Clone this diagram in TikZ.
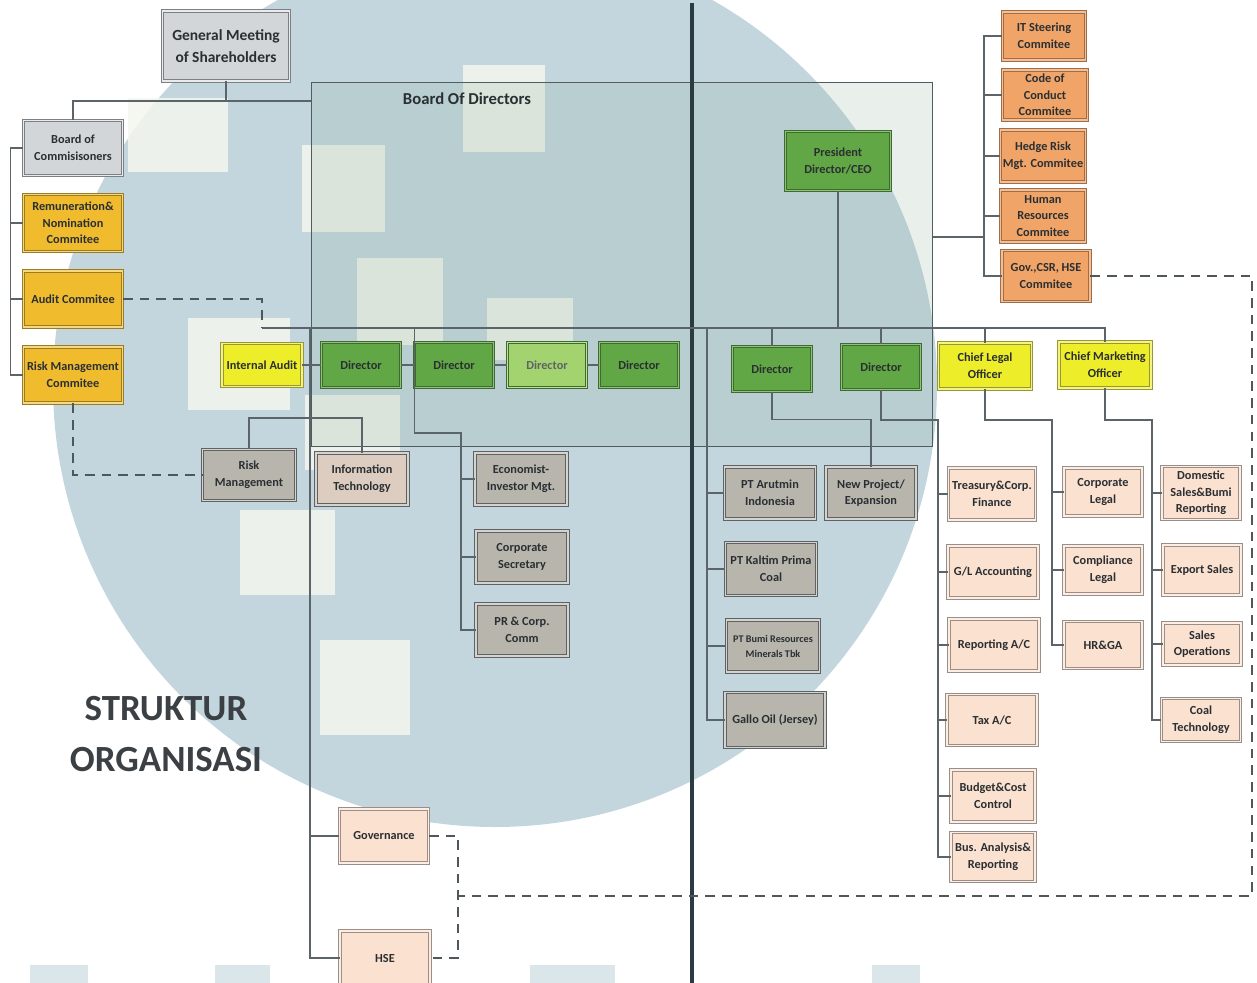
\documentclass[tikz,border=0pt]{standalone}
\usepackage{fontspec}
\setmainfont{Carlito}
\usetikzlibrary{shadows}

\definecolor{circ}{HTML}{C3D5DD}
\definecolor{sq}{HTML}{F5F6EE}
\definecolor{bodfill}{HTML}{8FB39C}
\definecolor{bodline}{HTML}{4F5D5F}
\definecolor{linec}{HTML}{5B6468}
\definecolor{dashc}{HTML}{4E575C}
\definecolor{spine}{HTML}{2C3A42}
\definecolor{txt}{HTML}{2A2F33}
\definecolor{titlec}{HTML}{3B4045}
\definecolor{cgray}{HTML}{D3D6D9}
\definecolor{cgrayl}{HTML}{7C8084}
\definecolor{cgold}{HTML}{F0BC2E}
\definecolor{cgoldl}{HTML}{9C7C22}
\definecolor{cyel}{HTML}{EDED2A}
\definecolor{cyell}{HTML}{97963A}
\definecolor{cgreen}{HTML}{62A745}
\definecolor{cgreenl}{HTML}{3D6B30}
\definecolor{clgreen}{HTML}{A2D36F}
\definecolor{corange}{HTML}{F1A467}
\definecolor{corangel}{HTML}{A06D49}
\definecolor{cunit}{HTML}{B8B5AD}
\definecolor{cunitl}{HTML}{5E6264}
\definecolor{cpeach}{HTML}{FBE1CF}
\definecolor{cpeachl}{HTML}{9A8F88}

\begin{document}
\begin{tikzpicture}[x=0.02cm, y=-0.02cm,
  org/.style={rectangle, align=center, text=txt, font=\fontsize{7}{9.5}\selectfont\bfseries,
    inner sep=1pt, line width=0.45pt, double distance=1.1pt,
    drop shadow={opacity=0.3, shadow xshift=0.9pt, shadow yshift=-0.9pt}},
  sz/.style 2 args={minimum width=#1*0.02cm, minimum height=#2*0.02cm},
  graybox/.style={org, fill=cgray, draw=cgrayl, double=cgray!50!white},
  goldbox/.style={org, fill=cgold, draw=cgoldl, double=cgold!60!white},
  yelbox/.style={org, fill=cyel, draw=cyell, double=cyel!60!white},
  dirbox/.style={org, fill=cgreen, draw=cgreenl, double=cgreen!70!white, sz={79}{45}},
  orgbox/.style={org, fill=corange, draw=corangel, double=corange!70!white},
  unitbox/.style={org, fill=cunit, draw=cunitl, double=cunit!60!white},
  peachbox/.style={org, fill=cpeach, draw=cpeachl, double=cpeach!60!white},
  link/.style={draw=linec, line width=0.6pt},
  dashlink/.style={draw=dashc, line width=0.9pt, dash pattern=on 5.5pt off 4pt}]

\useasboundingbox (0,0) rectangle (1257,983);
\clip (0,0) rectangle (1257,983);

% backdrop
\fill[circ] (495,385) circle (442);
\foreach \a/\b/\c/\d in {128/98/228/172, 302/145/385/232, 463/65/545/152, 357/258/443/345,
  487/298/573/360, 188/318/290/410, 305/395/400/470, 240/510/335/595, 320/640/410/735}
  \fill[sq, opacity=0.85] (\a,\b) rectangle (\c,\d);
\foreach \a/\b in {30/88, 215/270, 530/615, 872/920}
  \fill[circ, opacity=0.6] (\a,965) rectangle (\b,983);
\node[draw=bodline, fill=bodfill, fill opacity=0.2, line width=0.6pt, anchor=north west,
  minimum width=621*0.02cm, minimum height=364*0.02cm, inner sep=0pt] (bod) at (311,82) {};
\node[font=\fontsize{9.5}{11}\selectfont\bfseries, text=txt] (bodlabel) at (467,99) {Board Of Directors};
\draw[line width=2.2pt, spine] (692,3) -- (692,983);

% shareholders and commissioners
\node[graybox, sz={127}{70}, font=\fontsize{8.8}{12.5}\selectfont\bfseries] (gms) at (226,46) {General Meeting\\of Shareholders};
\node[graybox, sz={99}{55}] (boc) at (73,148) {Board of\\Commisisoners};
\node[goldbox, sz={99}{57}] (remun) at (73,223) {Remuneration\&\\Nomination\\Commitee};
\node[goldbox, sz={99}{56}] (audcom) at (73,299) {Audit Commitee};
\node[goldbox, sz={99}{56}] (riskcom) at (73,375) {Risk Management\\Commitee};

% directors row
\node[yelbox, sz={80}{43}] (intaudit) at (262,365) {Internal Audit};
\node[dirbox] (dirA) at (361,365) {Director};
\node[dirbox] (dirB) at (454,365) {Director};
\node[dirbox, fill=clgreen, double=clgreen!70!white, text=txt!75!white] (dirC) at (547,365) {Director};
\node[dirbox] (dirD) at (639,365) {Director};
\node[dirbox] (dirE) at (772,369) {Director};
\node[dirbox] (dirF) at (881,367) {Director};
\node[yelbox, sz={93}{46}] (legal) at (985,366) {Chief Legal\\Officer};
\node[yelbox, sz={92}{46}] (mkt) at (1105,365) {Chief Marketing\\Officer};
\node[dirbox, sz={105}{59}] (ceo) at (838,161) {President\\Director/CEO};

% board committees
\node[orgbox, sz={83}{48}] (itsc) at (1044,36) {IT Steering\\Commitee};
\node[orgbox, sz={85}{50}] (coc) at (1045,95) {Code of\\Conduct\\Commitee};
\node[orgbox, sz={85}{52}] (hedge) at (1043,156) {Hedge Risk\\Mgt. Commitee};
\node[orgbox, sz={85}{52}] (hrc) at (1043,216) {Human\\Resources\\Commitee};
\node[orgbox, sz={88}{51}] (gov) at (1046,276) {Gov.,CSR, HSE\\Commitee};

% left units
\node[unitbox, sz={93}{51}] (riskmgt) at (249,475) {Risk\\Management};
\node[unitbox, sz={92}{52}, fill=cunit!45!cpeach] (infotech) at (362,479) {Information\\Technology};
\node[unitbox, sz={92}{52}] (econ) at (521,479) {Economist-\\Investor Mgt.};
\node[unitbox, sz={92}{52}] (corsec) at (522,557) {Corporate\\Secretary};
\node[unitbox, sz={92}{52}] (prcomm) at (522,630) {PR \& Corp.\\Comm};
\node[peachbox, sz={89}{54}] (governance) at (384,836) {Governance};
\node[peachbox, sz={90}{54}] (hse) at (385,958) {HSE};

% subsidiaries
\node[unitbox, sz={91}{52}] (arutmin) at (770,493) {PT Arutmin\\Indonesia};
\node[unitbox, sz={90}{52}] (newproj) at (871,493) {New Project/\\Expansion};
\node[unitbox, sz={91}{53}] (kpc) at (771,569) {PT Kaltim Prima\\Coal};
\node[unitbox, sz={93}{52}, font=\fontsize{5.8}{8.5}\selectfont\bfseries] (bumi) at (773,646) {PT Bumi Resources\\Minerals Tbk};
\node[unitbox, sz={100}{55}] (gallo) at (775,720) {Gallo Oil (Jersey)};

% finance, legal, marketing
\node[peachbox, sz={87}{52}] (treasury) at (992,494) {Treasury\&Corp.\\Finance};
\node[peachbox, sz={90}{52}] (glacc) at (993,572) {G/L Accounting};
\node[peachbox, sz={90}{52}] (repac) at (994,645) {Reporting A/C};
\node[peachbox, sz={90}{51}] (taxac) at (992,720) {Tax A/C};
\node[peachbox, sz={84}{52}] (budget) at (993,796) {Budget\&Cost\\Control};
\node[peachbox, sz={84}{49}] (busan) at (993,857) {Bus. Analysis\&\\Reporting};
\node[peachbox, sz={78}{48}] (corplegal) at (1103,492) {Corporate\\Legal};
\node[peachbox, sz={78}{48}] (compl) at (1103,570) {Compliance\\Legal};
\node[peachbox, sz={78}{47}] (hrga) at (1103,645) {HR\&GA};
\node[peachbox, sz={78}{53}] (domestic) at (1201,493) {Domestic\\Sales\&Bumi\\Reporting};
\node[peachbox, sz={78}{50}] (export) at (1202,570) {Export Sales};
\node[peachbox, sz={78}{42}] (salesops) at (1202,644) {Sales\\Operations};
\node[peachbox, sz={79}{43}] (coaltech) at (1201,720) {Coal\\Technology};

\node[font=\fontsize{21}{29}\selectfont\bfseries, text=titlec, align=center] (title) at (166,734) {STRUKTUR\\ORGANISASI};

% junctions
\coordinate (gmsj) at (226,101);
\coordinate (busL) at (262,328);
\coordinate (govj) at (310,328);
\coordinate (itj) at (250,418);
\coordinate (staffx) at (461,433);
\coordinate (ptj) at (707,328);
\coordinate (finx) at (938,420);
\coordinate (legx) at (1052,420);
\coordinate (mktx) at (1152,420);
\coordinate (comx) at (984,237);
\coordinate (dashR) at (1252,896);
\coordinate (dashL) at (458,896);

% connectors
\draw[link] (gms.south) -- (gmsj) -| (boc.north);
\draw[link] (gmsj) -- (gmsj -| bod.west);
\foreach \n in {remun,audcom,riskcom}
  \draw[link] (boc.west) -- ++(-13,0) |- (\n.west);
\draw[link] (busL) -- (busL -| mkt.north) -- (mkt.north);
\foreach \n in {dirE,dirF,legal}
  \draw[link] (\n.north |- busL) -- (\n.north);
\draw[link] (ceo.south) -- (ceo.south |- busL);
\foreach \a/\b in {intaudit/dirA, dirA/dirB, dirB/dirC, dirC/dirD}
  \draw[link] (\a.east) -- (\b.west);
\draw[link] (govj) |- (hse.west);
\draw[link] (govj |- governance.west) -- (governance.west);
\draw[link] (riskmgt.north) |- (itj -| infotech.north) -- (infotech.north);
\draw[link] (dirB.west |- busL) |- (staffx) |- (prcomm.west);
\foreach \n in {econ,corsec}
  \draw[link] (staffx |- \n.west) -- (\n.west);
\draw[link] (ptj) |- (gallo.west);
\foreach \n in {arutmin,kpc,bumi}
  \draw[link] (ptj |- \n.west) -- (\n.west);
\draw[link] (dirE.south) -- ++(0,28) -| (newproj.north);
\draw[link] (dirF.south) |- (finx) |- (busan.west);
\foreach \n in {treasury,glacc,repac,taxac,budget}
  \draw[link] (finx |- \n.west) -- (\n.west);
\draw[link] (legal.south) |- (legx) |- (hrga.west);
\foreach \n in {corplegal,compl}
  \draw[link] (legx |- \n.west) -- (\n.west);
\draw[link] (mkt.south) |- (mktx) |- (coaltech.west);
\foreach \n in {domestic,export,salesops}
  \draw[link] (mktx |- \n.west) -- (\n.west);
\draw[link] (comx -| bod.east) -- (comx);
\draw[link] (itsc.west) -| (comx) |- (gov.west);
\foreach \n in {coc,hedge,hrc}
  \draw[link] (comx |- \n.west) -- (\n.west);

% dashed links
\draw[dashlink] (audcom.east) -| (busL);
\draw[dashlink] (riskcom.south) |- (riskmgt.west);
\draw[dashlink] (gov.east) -| (dashR) -- (dashL);
\draw[dashlink] (governance.east) -| (dashL) |- (hse.east);

\end{tikzpicture}
\end{document}
